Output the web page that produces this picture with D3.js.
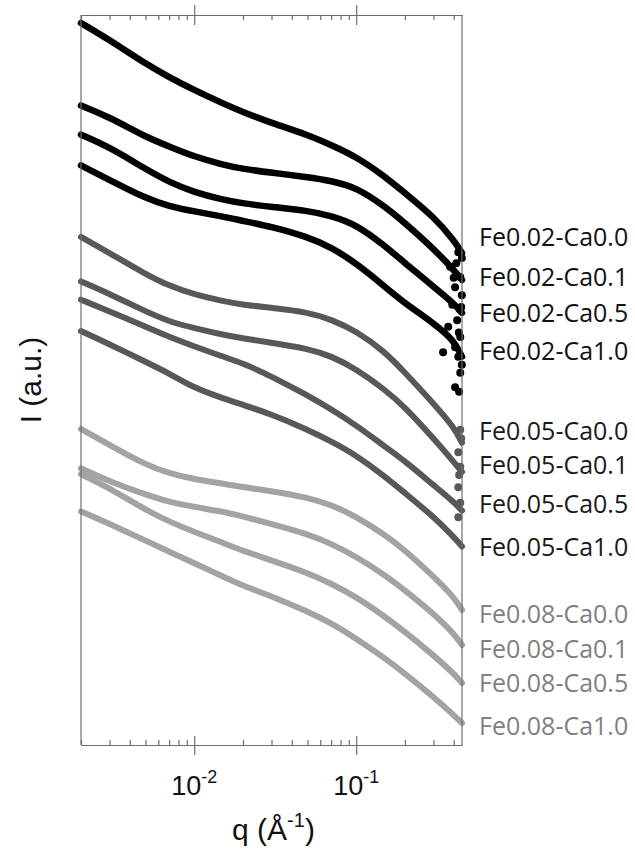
<!DOCTYPE html>
<html><head><meta charset="utf-8">
<script src="https://cdn.jsdelivr.net/npm/d3@7"></script>
<style>body{margin:0;background:#fff;} svg{display:block;}</style>
</head><body>
<svg id="chart" width="635" height="854"></svg>
<script>
// ---- data (q in 1/Å, intensity as log10 I, arbitrary units) ----
const qValues = [0.002,0.003,0.005,0.007,0.01,0.015,0.02,0.03,0.05,0.07,0.1,0.15,0.2,0.3,0.4,0.45];
const fe002_ca00 = [9.89,9.66,9.33,9.15,8.97,8.79,8.67,8.52,8.36,8.22,8.06,7.79,7.56,7.24,6.92,6.74];
const fe002_ca01 = [8.76,8.60,8.33,8.20,8.06,7.95,7.89,7.84,7.78,7.73,7.64,7.38,7.15,6.80,6.51,6.37];
const fe002_ca05 = [8.36,8.19,7.89,7.71,7.57,7.47,7.42,7.37,7.32,7.25,7.13,6.84,6.60,6.28,6.05,5.92];
const fe002_ca10 = [7.94,7.74,7.49,7.38,7.31,7.24,7.18,7.10,6.96,6.82,6.60,6.28,6.05,5.78,5.55,5.32];
const fe005_ca00 = [6.96,6.74,6.45,6.29,6.17,6.08,6.03,5.99,5.93,5.83,5.67,5.39,5.10,4.68,4.36,4.14];
const fe005_ca01 = [6.35,6.18,5.94,5.80,5.71,5.62,5.57,5.51,5.43,5.33,5.15,4.87,4.63,4.20,3.88,3.74];
const fe005_ca05 = [6.10,5.94,5.73,5.59,5.46,5.32,5.23,5.05,4.79,4.60,4.38,4.09,3.89,3.56,3.33,3.21];
const fe005_ca10 = [5.67,5.49,5.25,5.09,4.89,4.75,4.66,4.53,4.32,4.16,3.97,3.68,3.45,3.13,2.85,2.72];
const fe008_ca00 = [4.33,4.11,3.84,3.72,3.64,3.58,3.53,3.48,3.39,3.29,3.13,2.88,2.67,2.31,2.03,1.85];
const fe008_ca01 = [3.79,3.61,3.43,3.33,3.26,3.20,3.13,3.03,2.89,2.76,2.58,2.33,2.12,1.80,1.53,1.37];
const fe008_ca05 = [3.71,3.52,3.22,3.06,2.92,2.77,2.66,2.53,2.36,2.21,2.03,1.76,1.55,1.23,0.98,0.85];
const fe008_ca10 = [3.20,3.03,2.80,2.65,2.49,2.31,2.18,2.04,1.83,1.67,1.46,1.19,0.98,0.66,0.41,0.30];
// scattered high-q points (noisy ends)
const scatterFe002Q = [0.427,0.449,0.380,0.439,0.408,0.449,0.392,0.439,0.420,0.370,0.439,0.408,0.344,0.427,0.449,0.439,0.408,0.432,0.415,0.400,0.445,0.430];
const scatterFe002I = [6.75,6.67,6.55,6.41,6.27,6.16,6.03,5.96,5.82,5.73,5.59,5.45,5.38,5.32,5.21,5.10,4.90,4.84,6.60,6.40,6.00,5.65];
const scatterFe005Q = [0.439,0.427,0.439,0.427,0.439,0.427,0.445,0.432];
const scatterFe005I = [4.32,4.01,3.81,3.53,3.32,3.12,4.20,3.70];

const seriesNames = ["Fe0.02-Ca0.0","Fe0.02-Ca0.1","Fe0.02-Ca0.5","Fe0.02-Ca1.0",
                     "Fe0.05-Ca0.0","Fe0.05-Ca0.1","Fe0.05-Ca0.5","Fe0.05-Ca1.0",
                     "Fe0.08-Ca0.0","Fe0.08-Ca0.1","Fe0.08-Ca0.5","Fe0.08-Ca1.0"];
const seriesValues = [fe002_ca00,fe002_ca01,fe002_ca05,fe002_ca10,
                      fe005_ca00,fe005_ca01,fe005_ca05,fe005_ca10,
                      fe008_ca00,fe008_ca01,fe008_ca05,fe008_ca10];
const majorTicks = [0.01, 0.1];
const majorTickExponents = ["-2", "-1"];
const minorTicks = [0.002,0.003,0.004,0.005,0.006,0.007,0.008,0.009,
                    0.02,0.03,0.04,0.05,0.06,0.07,0.08,0.09,0.2,0.3,0.4];

// ---- styles / layout ----
const groupLineColors = ["#000000", "#58585a", "#a3a3a3"];
const groupTextColors = ["#111111", "#1a1a1a", "#808080"];
const groupLineWidths = [6.5, 6, 6];
const labelBaselines = [246, 286, 322, 360, 440, 474, 513, 556, 623, 658, 692, 735];

const svg = d3.select("#chart");
const L = 81, R = 462, T = 15, B = 745;
const x = d3.scaleLog().domain([0.002, 0.45]).range([L, R]);
const y = d3.scaleLinear().domain([0, 10]).range([B, T]);
const axisColor = "#6e6e6e";

// curves
const line = d3.line().x(d => x(d[0])).y(d => y(d[1])).curve(d3.curveBasis);
seriesValues.forEach((vals, i) => {
  const g = Math.floor(i / 4);
  const pts = qValues.map((q, j) => [q, vals[j]]);
  svg.append("path").datum(pts)
    .attr("d", line)
    .attr("fill", "none")
    .attr("stroke", groupLineColors[g])
    .attr("stroke-width", groupLineWidths[g])
    .attr("stroke-linecap", "round")
    .attr("stroke-linejoin", "round");
});
svg.append("g").selectAll("circle")
  .data(scatterFe005Q.map((q, i) => [q, scatterFe005I[i]]))
  .join("circle")
  .attr("cx", d => x(d[0])).attr("cy", d => y(d[1])).attr("r", 4)
  .attr("fill", groupLineColors[1]);
svg.append("g").selectAll("circle")
  .data(scatterFe002Q.map((q, i) => [q, scatterFe002I[i]]))
  .join("circle")
  .attr("cx", d => x(d[0])).attr("cy", d => y(d[1])).attr("r", 4)
  .attr("fill", groupLineColors[0]);

// frame: left and right
svg.append("line").attr("x1", L).attr("x2", L).attr("y1", T).attr("y2", B)
  .attr("stroke", axisColor).attr("stroke-width", 1.2);
svg.append("line").attr("x1", R).attr("x2", R).attr("y1", T).attr("y2", B)
  .attr("stroke", axisColor).attr("stroke-width", 1.2);

function styleAxis(g) {
  g.select(".domain").attr("stroke", axisColor).attr("stroke-width", 1.2);
  g.selectAll(".tick line").attr("stroke", axisColor).attr("stroke-width", 1.2);
  g.selectAll(".tick text").remove();
}
// bottom axis
const bMinor = svg.append("g").attr("transform", `translate(0,${B})`)
  .call(d3.axisBottom(x).tickValues(minorTicks).tickSizeInner(-5).tickSizeOuter(0).tickFormat(""));
styleAxis(bMinor);
const bMajor = svg.append("g").attr("transform", `translate(0,${B})`)
  .call(d3.axisBottom(x).tickValues(majorTicks).tickSizeOuter(0).tickFormat(""));
styleAxis(bMajor);
bMajor.selectAll(".tick line").attr("y1", -9).attr("y2", 10);
// top axis
const tMinor = svg.append("g").attr("transform", `translate(0,${T})`)
  .call(d3.axisTop(x).tickValues(minorTicks).tickSizeInner(-5).tickSizeOuter(0).tickFormat(""));
styleAxis(tMinor);
const tMajor = svg.append("g").attr("transform", `translate(0,${T})`)
  .call(d3.axisTop(x).tickValues(majorTicks).tickSizeOuter(0).tickFormat(""));
styleAxis(tMajor);
tMajor.selectAll(".tick line").attr("y1", 10).attr("y2", -10);

// major tick labels
majorTicks.forEach((q, i) => {
  const t = svg.append("text")
    .attr("x", x(q)).attr("y", 795)
    .attr("text-anchor", "middle")
    .attr("font-family", "Liberation Sans, Arial, sans-serif")
    .attr("font-size", 27).attr("fill", "#111");
  t.append("tspan").text("10");
  t.append("tspan").attr("dy", -12).attr("font-size", 18).text(majorTickExponents[i]);
});

// axis titles
const xt = svg.append("text")
  .attr("x", (L + R) / 2 + 2).attr("y", 840)
  .attr("text-anchor", "middle")
  .attr("font-family", "Liberation Sans, Arial, sans-serif")
  .attr("font-size", 30).attr("fill", "#111");
xt.append("tspan").text("q (Å");
xt.append("tspan").attr("dy", -13).attr("font-size", 20).text("-1");
xt.append("tspan").attr("dy", 13).text(")");

svg.append("text")
  .attr("transform", `translate(41,${(T + B) / 2}) rotate(-90)`)
  .attr("text-anchor", "middle")
  .attr("font-family", "Liberation Sans, Arial, sans-serif")
  .attr("font-size", 30).attr("fill", "#111")
  .text("I (a.u.)");

// series labels
seriesNames.forEach((name, i) => {
  const g = Math.floor(i / 4);
  svg.append("text")
    .attr("x", 479).attr("y", labelBaselines[i])
    .attr("font-family", "Open Sans, sans-serif")
    .attr("font-size", 25)
    .attr("fill", groupTextColors[g])
    .text(name);
});
</script>
</body></html>
